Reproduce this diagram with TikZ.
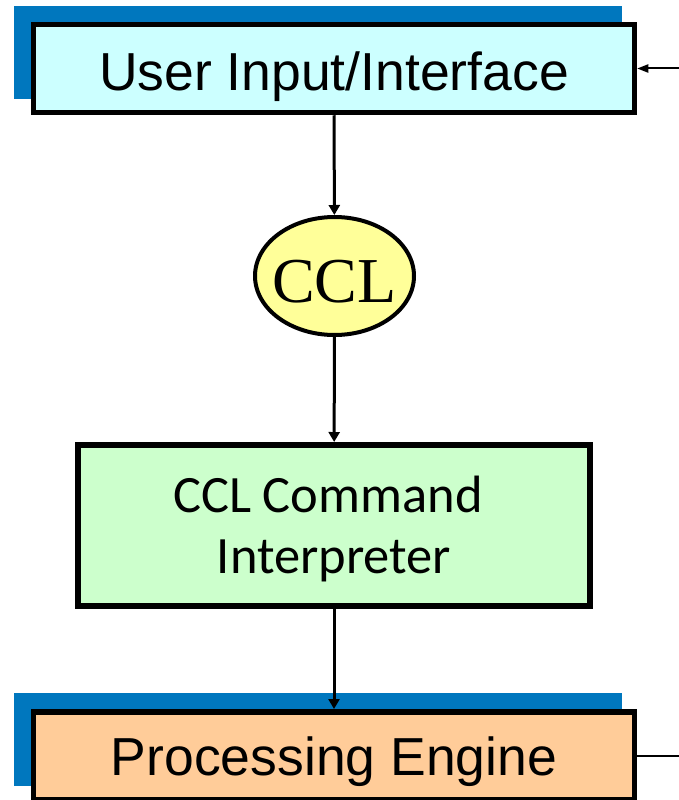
\documentclass[tikz,border=0pt]{standalone}
\usepackage{fontspec}
\newfontfamily\arialf{Liberation Sans}
\newfontfamily\timesf{Liberation Serif}
\newfontfamily\calibrif{Carlito}
\usetikzlibrary{arrows.meta,shapes.geometric}

\definecolor{shadowblue}{RGB}{0,119,190}
\definecolor{uicyan}{RGB}{204,255,255}
\definecolor{cclyellow}{RGB}{255,255,153}
\definecolor{interpgreen}{RGB}{204,255,204}
\definecolor{engineorange}{RGB}{255,204,153}

\tikzset{
  bigbox/.style={draw=black, line width=5.5pt, inner sep=0pt,
    minimum width=601pt, minimum height=88pt,
    font=\arialf\fontsize{53.5}{60}\selectfont, text height=43pt, text depth=0pt},
  interpbox/.style={draw=black, line width=6pt, fill=interpgreen, inner sep=0pt,
    minimum width=512pt, minimum height=161pt, align=center,
    font=\calibrif\fontsize{52.5}{61}\selectfont, text height=95pt, text depth=0pt},
  cclnode/.style={ellipse, draw=black, line width=4pt, fill=cclyellow, inner sep=0pt,
    minimum width=159pt, minimum height=118pt,
    font=\timesf\fontsize{64}{70}\selectfont, text height=52pt, text depth=0pt},
  flow/.style={line width=3pt, -{Triangle[width=11pt,length=10pt]}},
  sideflow/.style={line width=2pt, -{Triangle[width=8pt,length=11pt]}},
  shadow/.style={fill=shadowblue, draw=none}
}

\begin{document}
\begin{tikzpicture}[x=1pt, y=-1pt]
  \useasboundingbox (0,0) rectangle (679,800);
  \clip (0,0) rectangle (679,800);

  % offset blue blocks behind the two wide boxes
  \fill[shadow] (14,6) rectangle (622,99);
  \fill[shadow] (14,693) rectangle (622,786);

  \node[bigbox, fill=uicyan] (ui) at (334,68.5) {User Input/Interface};
  \node[cclnode] (ccl) at (334.5,276) {\makebox[0pt]{CCL}};
  \node[interpbox] (interp) at (334,525.5) {CCL Command\hspace*{0.23em}\\Interpreter};
  \node[bigbox, fill=engineorange, minimum height=87.5pt, text height=39pt] (engine) at (334,755.5) {Processing Engine};

  \coordinate (feedin) at (679,68.5);
  \coordinate (feedout) at (679,755.5);

  \draw[flow] (ui) -- (ccl);
  \draw[flow] (ccl) -- (interp);
  \draw[flow] (interp) -- (engine);
  \draw[sideflow] (feedin) -- (ui.east);
  \draw[line width=2pt] (engine.east) -- (feedout);
\end{tikzpicture}
\end{document}
